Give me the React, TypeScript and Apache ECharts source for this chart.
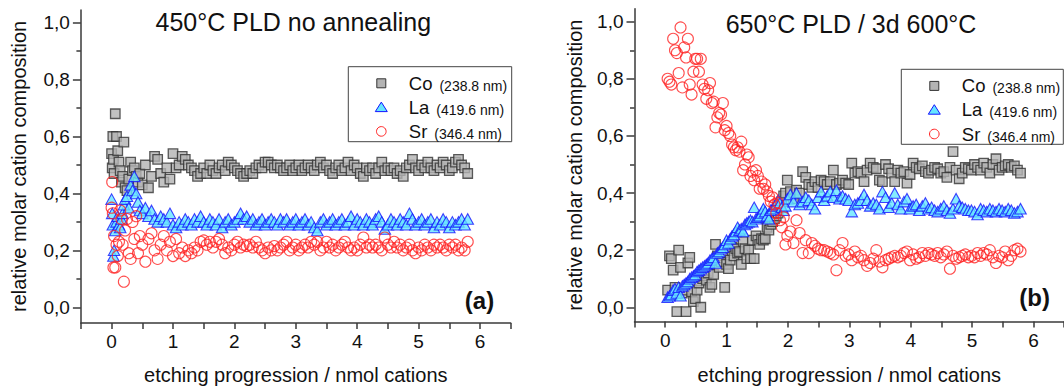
import { useEffect, useRef } from 'react';
import * as echarts from 'echarts';

const FONT = '"Liberation Sans", Arial, Helvetica, sans-serif';
const INK = '#111111';
const AXIS_COLOR = '#3a3a3a';

// ---- panel (a): 450°C PLD, no annealing ----
const LEFT_X = [
  0.00, 0.01, 0.02, 0.03, 0.04, 0.06, 0.08, 0.10, 0.12, 0.14,
  0.16, 0.18, 0.20, 0.22, 0.25, 0.28, 0.31, 0.34, 0.37, 0.40,
  0.43, 0.46, 0.50,
  0.55, 0.60, 0.65, 0.70, 0.75, 0.80, 0.85, 0.90, 0.95, 1.00,
  1.05, 1.10, 1.15, 1.20, 1.25, 1.30, 1.35, 1.40, 1.45, 1.50,
  1.55, 1.60, 1.65, 1.70, 1.75, 1.80, 1.85, 1.90, 1.95, 2.00,
  2.05, 2.10, 2.15, 2.20, 2.25, 2.30, 2.35, 2.40, 2.45, 2.50,
  2.55, 2.60, 2.65, 2.70, 2.75, 2.80, 2.85, 2.90, 2.95, 3.00,
  3.05, 3.10, 3.15, 3.20, 3.25, 3.30, 3.35, 3.40, 3.45, 3.50,
  3.55, 3.60, 3.65, 3.70, 3.75, 3.80, 3.85, 3.90, 3.95, 4.00,
  4.05, 4.10, 4.15, 4.20, 4.25, 4.30, 4.35, 4.40, 4.45, 4.50,
  4.55, 4.60, 4.65, 4.70, 4.75, 4.80, 4.85, 4.90, 4.95, 5.00,
  5.05, 5.10, 5.15, 5.20, 5.25, 5.30, 5.35, 5.40, 5.45, 5.50,
  5.55, 5.60, 5.65, 5.70, 5.75, 5.80,
];
const LEFT_CO = [
  0.54, 0.49, 0.60, 0.52, 0.47, 0.68, 0.60, 0.55, 0.51, 0.48,
  0.44, 0.46, 0.58, 0.42, 0.41, 0.45, 0.51, 0.48, 0.49, 0.46,
  0.44, 0.47, 0.43,
  0.50, 0.42, 0.46, 0.53, 0.52, 0.47, 0.44, 0.49, 0.45, 0.54,
  0.49, 0.50, 0.53, 0.52, 0.50, 0.49, 0.48, 0.46, 0.47, 0.49,
  0.47, 0.50, 0.48, 0.47, 0.49, 0.50, 0.48, 0.51, 0.50, 0.49,
  0.48, 0.47, 0.46, 0.47, 0.48, 0.47, 0.49, 0.50, 0.49, 0.51,
  0.51, 0.50, 0.49, 0.50, 0.49, 0.48, 0.49, 0.50, 0.48, 0.49,
  0.50, 0.48, 0.49, 0.50, 0.49, 0.48, 0.50, 0.51, 0.49, 0.50,
  0.48, 0.47, 0.49, 0.50, 0.48, 0.49, 0.51, 0.48, 0.50, 0.49,
  0.47, 0.46, 0.49, 0.48, 0.49, 0.47, 0.49, 0.51, 0.48, 0.49,
  0.48, 0.49, 0.47, 0.48, 0.46, 0.49, 0.50, 0.52, 0.49, 0.48,
  0.50, 0.49, 0.51, 0.49, 0.48, 0.50, 0.49, 0.51, 0.50, 0.48,
  0.49, 0.51, 0.52, 0.50, 0.49, 0.47,
];
const LEFT_LA = [
  0.38, 0.33, 0.29, 0.18, 0.20, 0.27, 0.30, 0.32, 0.29, 0.28,
  0.31, 0.33, 0.36, 0.38, 0.39, 0.35, 0.43, 0.41, 0.46, 0.40,
  0.37, 0.34, 0.33,
  0.35, 0.32, 0.34, 0.31, 0.30, 0.32, 0.31, 0.30, 0.33, 0.29,
  0.28, 0.30, 0.29, 0.31, 0.30, 0.29, 0.31, 0.30, 0.32, 0.30,
  0.29, 0.31, 0.30, 0.29, 0.31, 0.28, 0.30, 0.31, 0.29, 0.30,
  0.31, 0.33, 0.31, 0.32, 0.30, 0.31, 0.29, 0.30, 0.31, 0.29,
  0.30, 0.31, 0.30, 0.29, 0.31, 0.30, 0.31, 0.29, 0.30, 0.31,
  0.29, 0.30, 0.31, 0.29, 0.30, 0.28, 0.27, 0.30, 0.31, 0.29,
  0.30, 0.31, 0.29, 0.30, 0.31, 0.29, 0.30, 0.32, 0.29, 0.31,
  0.30, 0.29, 0.31, 0.30, 0.29, 0.31, 0.32, 0.30, 0.275, 0.29,
  0.31, 0.30, 0.29, 0.31, 0.30, 0.29, 0.33, 0.31, 0.29, 0.30,
  0.31, 0.29, 0.30, 0.31, 0.28, 0.30, 0.29, 0.31, 0.30, 0.28,
  0.30, 0.29, 0.30, 0.31, 0.29, 0.31,
];
const LEFT_SR = [
  0.35, 0.44, 0.33, 0.14, 0.25, 0.14, 0.22, 0.18, 0.23, 0.34,
  0.31, 0.22, 0.09, 0.27, 0.31, 0.19, 0.17, 0.30, 0.24, 0.32,
  0.19, 0.25, 0.22,
  0.16, 0.24, 0.26, 0.20, 0.17, 0.22, 0.25, 0.20, 0.23, 0.18,
  0.24, 0.19, 0.21, 0.18, 0.20, 0.19, 0.21, 0.20, 0.23, 0.235,
  0.22, 0.23, 0.21, 0.23, 0.24, 0.22, 0.19, 0.21, 0.20, 0.22,
  0.23, 0.21, 0.22, 0.215, 0.22, 0.21, 0.23, 0.21, 0.20, 0.19,
  0.21, 0.20, 0.215, 0.20, 0.21, 0.22, 0.23, 0.20, 0.21, 0.22,
  0.20, 0.21, 0.22, 0.21, 0.23, 0.22, 0.23, 0.20, 0.21, 0.23,
  0.21, 0.22, 0.20, 0.21, 0.22, 0.23, 0.21, 0.20, 0.21, 0.20,
  0.22, 0.245, 0.21, 0.22, 0.21, 0.22, 0.21, 0.20, 0.245, 0.22,
  0.21, 0.23, 0.21, 0.22, 0.20, 0.21, 0.22, 0.20, 0.19, 0.21,
  0.20, 0.22, 0.21, 0.20, 0.22, 0.21, 0.22, 0.21, 0.20, 0.22,
  0.21, 0.22, 0.20, 0.21, 0.20, 0.23,
];

// ---- panel (b): 650°C PLD, 3 days at 600°C ----
const RIGHT_X = [
  0.04, 0.07, 0.10, 0.13, 0.16, 0.19, 0.22, 0.25, 0.28, 0.31,
  0.34, 0.37, 0.40, 0.43, 0.46, 0.49, 0.52, 0.55, 0.58, 0.61,
  0.64, 0.67, 0.70, 0.73, 0.76, 0.79, 0.82, 0.85, 0.88, 0.91,
  0.94, 0.97, 1.00, 1.03, 1.06, 1.09, 1.12, 1.15, 1.18, 1.21,
  1.24, 1.27, 1.30, 1.33, 1.36, 1.39, 1.42, 1.45, 1.48, 1.51,
  1.54, 1.57, 1.60, 1.63, 1.66, 1.69, 1.72, 1.75, 1.78, 1.81,
  1.84, 1.87, 1.90, 1.93, 1.96, 1.99,
  2.04, 2.09, 2.14, 2.19, 2.24, 2.29, 2.34, 2.39, 2.44, 2.49,
  2.54, 2.59, 2.64, 2.69, 2.74, 2.79, 2.84, 2.89, 2.94, 2.99,
  3.04, 3.09, 3.14, 3.19, 3.24, 3.29, 3.34, 3.39, 3.44, 3.49,
  3.54, 3.59, 3.64, 3.69, 3.74, 3.79, 3.84, 3.89, 3.94, 3.99,
  4.04, 4.09, 4.14, 4.19, 4.24, 4.29, 4.34, 4.39, 4.44, 4.49,
  4.54, 4.59, 4.64, 4.69, 4.74, 4.79, 4.84, 4.89, 4.94, 4.99,
  5.04, 5.09, 5.14, 5.19, 5.24, 5.29, 5.34, 5.39, 5.44, 5.49,
  5.54, 5.59, 5.64, 5.69, 5.74, 5.79,
];
const RIGHT_CO = [
  0.06, 0.18, 0.17, 0.13, 0.07, -0.015, 0.20, 0.14, 0.05, 0.06,
  -0.015, 0.155, 0.175, 0.055, 0.02, 0.03, 0.06, 0.085, 0.00, 0.10,
  0.11, 0.095, 0.12, 0.07, 0.08, 0.115, 0.22, 0.18, 0.14, 0.16,
  0.19, 0.07, 0.15, 0.135, 0.165, 0.21, 0.18, 0.205, 0.19, 0.195,
  0.15, 0.23, 0.205, 0.17, 0.20, 0.17, 0.235, 0.17, 0.25, 0.235,
  0.22, 0.24, 0.235, 0.24, 0.28, 0.27, 0.29, 0.30, 0.31, 0.32,
  0.33, 0.35, 0.37, 0.39, 0.40, 0.445,
  0.405, 0.38, 0.41, 0.40, 0.475, 0.455, 0.43, 0.42, 0.44, 0.42,
  0.445, 0.44, 0.43, 0.44, 0.48, 0.43, 0.435, 0.445, 0.435, 0.43,
  0.505, 0.47, 0.475, 0.47, 0.44, 0.48, 0.505, 0.49, 0.485, 0.445,
  0.44, 0.50, 0.485, 0.47, 0.44, 0.48, 0.47, 0.475, 0.435, 0.465,
  0.505, 0.49, 0.485, 0.495, 0.475, 0.47, 0.48, 0.49, 0.485, 0.47,
  0.475, 0.455, 0.49, 0.545, 0.48, 0.45, 0.47, 0.49, 0.485, 0.48,
  0.50, 0.49, 0.48, 0.505, 0.49, 0.47, 0.50, 0.52, 0.48, 0.49,
  0.495, 0.50, 0.49, 0.495, 0.48, 0.47,
];
const RIGHT_LA = [
  0.035, 0.04, 0.045, 0.06, 0.065, 0.05, 0.07, 0.04, 0.075, 0.08,
  0.085, 0.09, 0.10, 0.105, 0.11, 0.115, 0.125, 0.13, 0.135, 0.14,
  0.145, 0.15, 0.155, 0.165, 0.17, 0.175, 0.155, 0.19, 0.195, 0.205,
  0.21, 0.22, 0.235, 0.225, 0.24, 0.25, 0.255, 0.265, 0.28, 0.27,
  0.275, 0.265, 0.29, 0.295, 0.30, 0.305, 0.30, 0.35, 0.31, 0.315,
  0.32, 0.33, 0.345, 0.335, 0.32, 0.31, 0.34, 0.345, 0.355, 0.36,
  0.375, 0.365, 0.35, 0.34, 0.355, 0.38,
  0.395, 0.37, 0.40, 0.36, 0.37, 0.385, 0.375, 0.36, 0.345, 0.385,
  0.405, 0.375, 0.39, 0.405, 0.385, 0.41, 0.38, 0.39, 0.38, 0.375,
  0.335, 0.36, 0.365, 0.375, 0.395, 0.375, 0.355, 0.365, 0.36, 0.345,
  0.405, 0.385, 0.35, 0.365, 0.40, 0.36, 0.345, 0.37, 0.38, 0.345,
  0.355, 0.36, 0.34, 0.355, 0.365, 0.345, 0.35, 0.34, 0.335, 0.345,
  0.355, 0.34, 0.33, 0.345, 0.38, 0.355, 0.35, 0.345, 0.34, 0.34,
  0.335, 0.325, 0.345, 0.34, 0.335, 0.345, 0.34, 0.335, 0.345, 0.34,
  0.335, 0.345, 0.34, 0.33, 0.335, 0.345,
];
const RIGHT_SR = [
  0.80, 0.79, 0.78, 0.94, 0.90, 0.89, 0.82, 0.98, 0.77, 0.91,
  0.875, 0.94, 0.78, 0.745, 0.825, 0.87, 0.87, 0.825, 0.87, 0.78,
  0.765, 0.73, 0.76, 0.785, 0.715, 0.72, 0.63, 0.665, 0.68, 0.675,
  0.715, 0.62, 0.635, 0.61, 0.60, 0.57, 0.56, 0.55, 0.56, 0.545,
  0.58, 0.48, 0.50, 0.535, 0.525, 0.46, 0.475, 0.445, 0.48, 0.46,
  0.415, 0.44, 0.415, 0.43, 0.405, 0.39, 0.37, 0.385, 0.36, 0.33,
  0.365, 0.305, 0.28, 0.315, 0.22, 0.25,
  0.265, 0.225, 0.305, 0.26, 0.19, 0.235, 0.19, 0.225, 0.215, 0.205,
  0.20, 0.20, 0.195, 0.19, 0.185, 0.13, 0.20, 0.225, 0.18, 0.185,
  0.165, 0.195, 0.175, 0.18, 0.165, 0.145, 0.155, 0.17, 0.20, 0.16,
  0.14, 0.165, 0.17, 0.175, 0.18, 0.175, 0.18, 0.19, 0.195, 0.165,
  0.185, 0.17, 0.175, 0.19, 0.18, 0.19, 0.185, 0.18, 0.19, 0.175,
  0.185, 0.195, 0.135, 0.18, 0.17, 0.175, 0.18, 0.185, 0.175, 0.18,
  0.175, 0.19, 0.18, 0.19, 0.185, 0.20, 0.175, 0.155, 0.18, 0.175,
  0.195, 0.165, 0.18, 0.20, 0.205, 0.195,
];

// ---- axes ----
const Y_MAJOR_TICKS = [0, 0.2, 0.4, 0.6, 0.8, 1.0];
const Y_MINOR_TICKS = [0.1, 0.3, 0.5, 0.7, 0.9];
const X_TICKS = [-0.5, 0, 0.5, 1, 1.5, 2, 2.5, 3, 3.5, 4, 4.5, 5, 5.5, 6, 6.5];
const X_LABELS = [0, 1, 2, 3, 4, 5, 6];

const Y_NAME = 'relative molar cation composition';
const X_NAME = 'etching progression / nmol cations';
const TITLES = ['450°C PLD no annealing', '650°C PLD / 3d 600°C'];
const PANEL_TAGS = ['(a)', '(b)'];
const ELEMENTS = ['Co', 'La', 'Sr'];
const EMISSION_LINES = ['(238.8 nm)', '(419.6 nm)', '(346.4 nm)'];

const MARKERS: Record<string, any> = {
  Co: {
    symbol: 'rect',
    symbolSize: 9.5,
    itemStyle: { color: '#b3b3b3', borderColor: '#333333', borderWidth: 1.3 },
  },
  La: {
    symbol: 'triangle',
    symbolSize: [11.5, 10.5],
    itemStyle: { color: '#66e6ff', borderColor: '#1414ff', borderWidth: 1.1 },
  },
  Sr: {
    symbol: 'circle',
    symbolSize: 11,
    itemStyle: { color: 'rgba(255,255,255,0)', borderColor: '#ff2222', borderWidth: 1.1 },
  },
};

const PANELS = [
  {
    grid: { left: 80.9, top: 9.9, width: 429.8, height: 313 },
    yMin: -0.055,
    yMax: 1.045,
    yNameGap: 52,
    xNameGap: 42,
    title: { x: 293.3, y: 22 },
    tag: { x: 479.5, y: 300 },
    legend: { x: 348.3, y: 66.7, w: 163.4, h: 75 },
    xs: LEFT_X,
    ys: [LEFT_CO, LEFT_LA, LEFT_SR],
  },
  {
    grid: { left: 634.5, top: 8.85, width: 429.6, height: 312.7 },
    yMin: -0.05,
    yMax: 1.045,
    yNameGap: 50,
    xNameGap: 43,
    title: { x: 851, y: 24 },
    tag: { x: 1034.6, y: 297 },
    legend: { x: 901.3, y: 69.3, w: 162, h: 75 },
    xs: RIGHT_X,
    ys: [RIGHT_CO, RIGHT_LA, RIGHT_SR],
  },
];

function zipPoints(xs: number[], ys: number[]) {
  const n = Math.min(xs.length, ys.length);
  const out: number[][] = [];
  for (let i = 0; i < n; i++) out.push([xs[i], ys[i]]);
  return out;
}

const commaDecimal = (v: number) => v.toFixed(1).replace('.', ',');

function legendBox(box: { x: number; y: number; w: number; h: number }) {
  const rows = [16.6, 40.4, 64.7];
  const children: any[] = [
    {
      type: 'rect',
      shape: { x: box.x, y: box.y, width: box.w, height: box.h },
      style: { fill: '#ffffff', stroke: '#444444', lineWidth: 1 },
    },
  ];
  ELEMENTS.forEach((el, i) => {
    const cx = box.x + 33;
    const cy = box.y + rows[i];
    const st = MARKERS[el].itemStyle;
    const style = { fill: st.color, stroke: st.borderColor, lineWidth: 1 };
    if (el === 'Co') {
      children.push({ type: 'rect', shape: { x: cx - 4.5, y: cy - 4.5, width: 9, height: 9 }, style });
    } else if (el === 'La') {
      children.push({
        type: 'polygon',
        shape: { points: [[cx, cy - 5], [cx - 6, cy + 4.5], [cx + 6, cy + 4.5]] },
        style,
      });
    } else {
      children.push({ type: 'circle', shape: { cx, cy, r: 4.8 }, style });
    }
    children.push({
      type: 'text',
      x: box.x + 60.5,
      y: cy,
      style: {
        text: `{a|${el}}{b|${EMISSION_LINES[i]}}`,
        verticalAlign: 'middle',
        align: 'left',
        rich: {
          a: { fontSize: 18.5, fontFamily: FONT, fill: INK, verticalAlign: 'bottom' },
          b: { fontSize: 14, fontFamily: FONT, fill: INK, verticalAlign: 'bottom', padding: [0, 0, 0, 7] },
        },
      },
    });
  });
  return { type: 'group', children };
}

function buildOption() {
  const grid: any[] = [];
  const xAxis: any[] = [];
  const yAxis: any[] = [];
  const series: any[] = [];
  const graphic: any[] = [];

  PANELS.forEach((p, pi) => {
    grid.push({ ...p.grid, outerBoundsMode: 'none', containLabel: false });

    xAxis.push({
      type: 'value',
      gridIndex: pi,
      min: -0.5,
      max: 6.5,
      name: X_NAME,
      nameLocation: 'middle',
      nameGap: p.xNameGap,
      nameMoveOverlap: false,
      nameTextStyle: { fontSize: 20, fontFamily: FONT, color: INK },
      axisLine: { show: true, onZero: false, lineStyle: { color: AXIS_COLOR, width: 1.5 } },
      axisTick: {
        show: true,
        inside: false,
        length: 6,
        customValues: X_TICKS,
        lineStyle: { color: AXIS_COLOR, width: 1.5 },
      },
      axisLabel: {
        customValues: X_LABELS,
        margin: 9,
        fontSize: 19,
        fontFamily: FONT,
        color: INK,
        formatter: (v: number) => String(v),
      },
      splitLine: { show: false },
    });

    yAxis.push({
      type: 'value',
      gridIndex: pi,
      position: 'left',
      offset: 0,
      min: p.yMin,
      max: p.yMax,
      name: Y_NAME,
      nameLocation: 'middle',
      nameGap: p.yNameGap,
      nameMoveOverlap: false,
      nameTextStyle: { fontSize: 20, fontFamily: FONT, color: INK },
      axisLine: { show: true, onZero: false, lineStyle: { color: AXIS_COLOR, width: 1.5 } },
      axisTick: {
        show: true,
        inside: false,
        length: 8,
        customValues: Y_MAJOR_TICKS,
        lineStyle: { color: AXIS_COLOR, width: 1.5 },
      },
      axisLabel: {
        customValues: Y_MAJOR_TICKS,
        margin: 11,
        fontSize: 19,
        fontFamily: FONT,
        color: INK,
        formatter: commaDecimal,
      },
      splitLine: { show: false },
    });

    // minor ticks only
    yAxis.push({
      type: 'value',
      gridIndex: pi,
      position: 'left',
      offset: 0,
      min: p.yMin,
      max: p.yMax,
      axisLine: { show: false, onZero: false },
      axisTick: {
        show: true,
        inside: false,
        length: 4.5,
        customValues: Y_MINOR_TICKS,
        lineStyle: { color: AXIS_COLOR, width: 1.5 },
      },
      axisLabel: { show: false, customValues: Y_MINOR_TICKS },
      splitLine: { show: false },
    });

    ELEMENTS.forEach((el, si) => {
      series.push({
        type: 'scatter',
        name: el,
        xAxisIndex: pi,
        yAxisIndex: pi * 2,
        data: zipPoints(p.xs, p.ys[si]),
        ...MARKERS[el],
        z: 2 + si,
      });
    });

    graphic.push({
      type: 'text',
      x: p.title.x,
      y: p.title.y,
      style: {
        text: TITLES[pi],
        fontSize: 25,
        fontFamily: FONT,
        fill: INK,
        align: 'center',
        verticalAlign: 'middle',
      },
    });
    graphic.push({
      type: 'text',
      x: p.tag.x,
      y: p.tag.y,
      style: {
        text: PANEL_TAGS[pi],
        fontSize: 24,
        fontWeight: 'bold',
        fontFamily: FONT,
        fill: INK,
        align: 'center',
        verticalAlign: 'middle',
      },
    });
    graphic.push(legendBox(p.legend));
  });

  return {
    animation: false,
    backgroundColor: '#ffffff',
    textStyle: { fontFamily: FONT },
    grid,
    xAxis,
    yAxis,
    series,
    graphic,
  };
}

export default function App() {
  const ref = useRef<HTMLDivElement>(null);

  useEffect(() => {
    if (!ref.current) return;
    const chart = echarts.init(ref.current, undefined, { renderer: 'svg' });
    chart.setOption(buildOption() as any);
    return () => chart.dispose();
  }, []);

  return (
    <div
      ref={ref}
      style={{ position: 'fixed', left: 0, top: 0, width: 1064, height: 389, background: '#ffffff' }}
    />
  );
}
